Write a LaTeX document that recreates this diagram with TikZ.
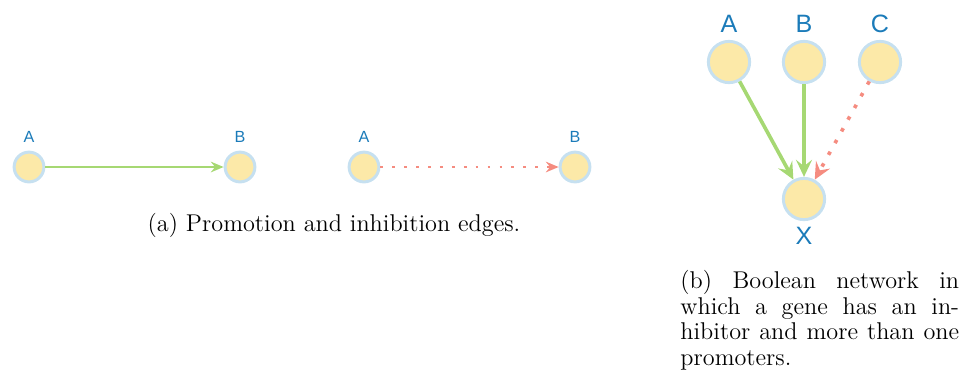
\documentclass[tikz,border=0pt]{standalone}
\usepackage{fontspec}
\newfontfamily\lblfont{Liberation Sans}
\usetikzlibrary{arrows.meta}
\definecolor{genefill}{HTML}{FCE9A8}
\definecolor{generim}{HTML}{C6E0F0}
\definecolor{lblblue}{HTML}{1B7BB9}
\definecolor{promgreen}{HTML}{A6D873}
\definecolor{inhred}{HTML}{F58C80}

\begin{document}
\begin{tikzpicture}[
  x=0.47pt, y=-0.47pt,
  gene/.style={circle, draw=generim, fill=genefill, line width=1.4pt,
               minimum size=14pt, inner sep=0pt},
  biggene/.style={gene, minimum size=19.4pt},
  genelbl/.style={text=lblblue, font=\lblfont\fontsize{7.6}{8}\selectfont, inner sep=0pt},
  biglbl/.style={text=lblblue, font=\lblfont\fontsize{11.8}{13}\selectfont, inner sep=0pt},
  promote/.style={line width=1.3pt, promgreen, -{Stealth[length=6pt, width=5pt, inset=2pt]}},
  inhibit/.style={line width=1.3pt, inhred, dash pattern=on 1.3pt off 4.3pt,
                  -{Stealth[length=6pt, width=5pt, inset=2pt]}},
  thick promote/.style={promote, line width=1.7pt, -{Stealth[length=8pt, width=7.5pt, inset=3pt]}},
  thick inhibit/.style={inhibit, line width=1.7pt, dash pattern=on 1.7pt off 4.6pt,
                        -{Stealth[length=8pt, width=7.5pt, inset=3pt]}},
  capt/.style={font=\fontsize{11.4}{12}\selectfont, inner sep=0pt},
]
\useasboundingbox (0,0) rectangle (968,373);

% (a) promotion and inhibition edges
\node[gene] (pa) at (29,167) {};
\node[gene] (pb) at (240,167) {};
\node[genelbl] (pal) at (29,137) {A};
\node[genelbl] (pbl) at (240,137) {B};
\draw[promote] (pa) -- (pb);

\node[gene] (ia) at (364,167) {};
\node[gene] (ib) at (575,167) {};
\node[genelbl] (ial) at (364,137) {A};
\node[genelbl] (ibl) at (575,137) {B};
\draw[inhibit] (ia) -- (ib);

\node[capt] (capa) at (334,225) {(a) Promotion and inhibition edges.};

% (b) Boolean network
\node[biggene] (ga) at (729,62) {};
\node[biggene] (gb) at (804,62) {};
\node[biggene] (gc) at (880,62) {};
\node[biggene] (gx) at (804,199) {};
\node[biglbl] (gal) at (729,24) {A};
\node[biglbl] (gbl) at (804,24) {B};
\node[biglbl] (gcl) at (880,24) {C};
\node[biglbl] (gxl) at (804,236) {X};
\draw[thick promote] (ga) -- (gx);
\draw[thick promote] (gb) -- (gx);
\draw[thick inhibit] (gc) -- (gx);

\node[capt, text width=131pt, align=justify, anchor=north west] (capb) at (680,270)
  {(b) Boolean network in\linebreak which a gene has an in-\linebreak hibitor and more than one\linebreak promoters.};

\end{tikzpicture}
\end{document}
